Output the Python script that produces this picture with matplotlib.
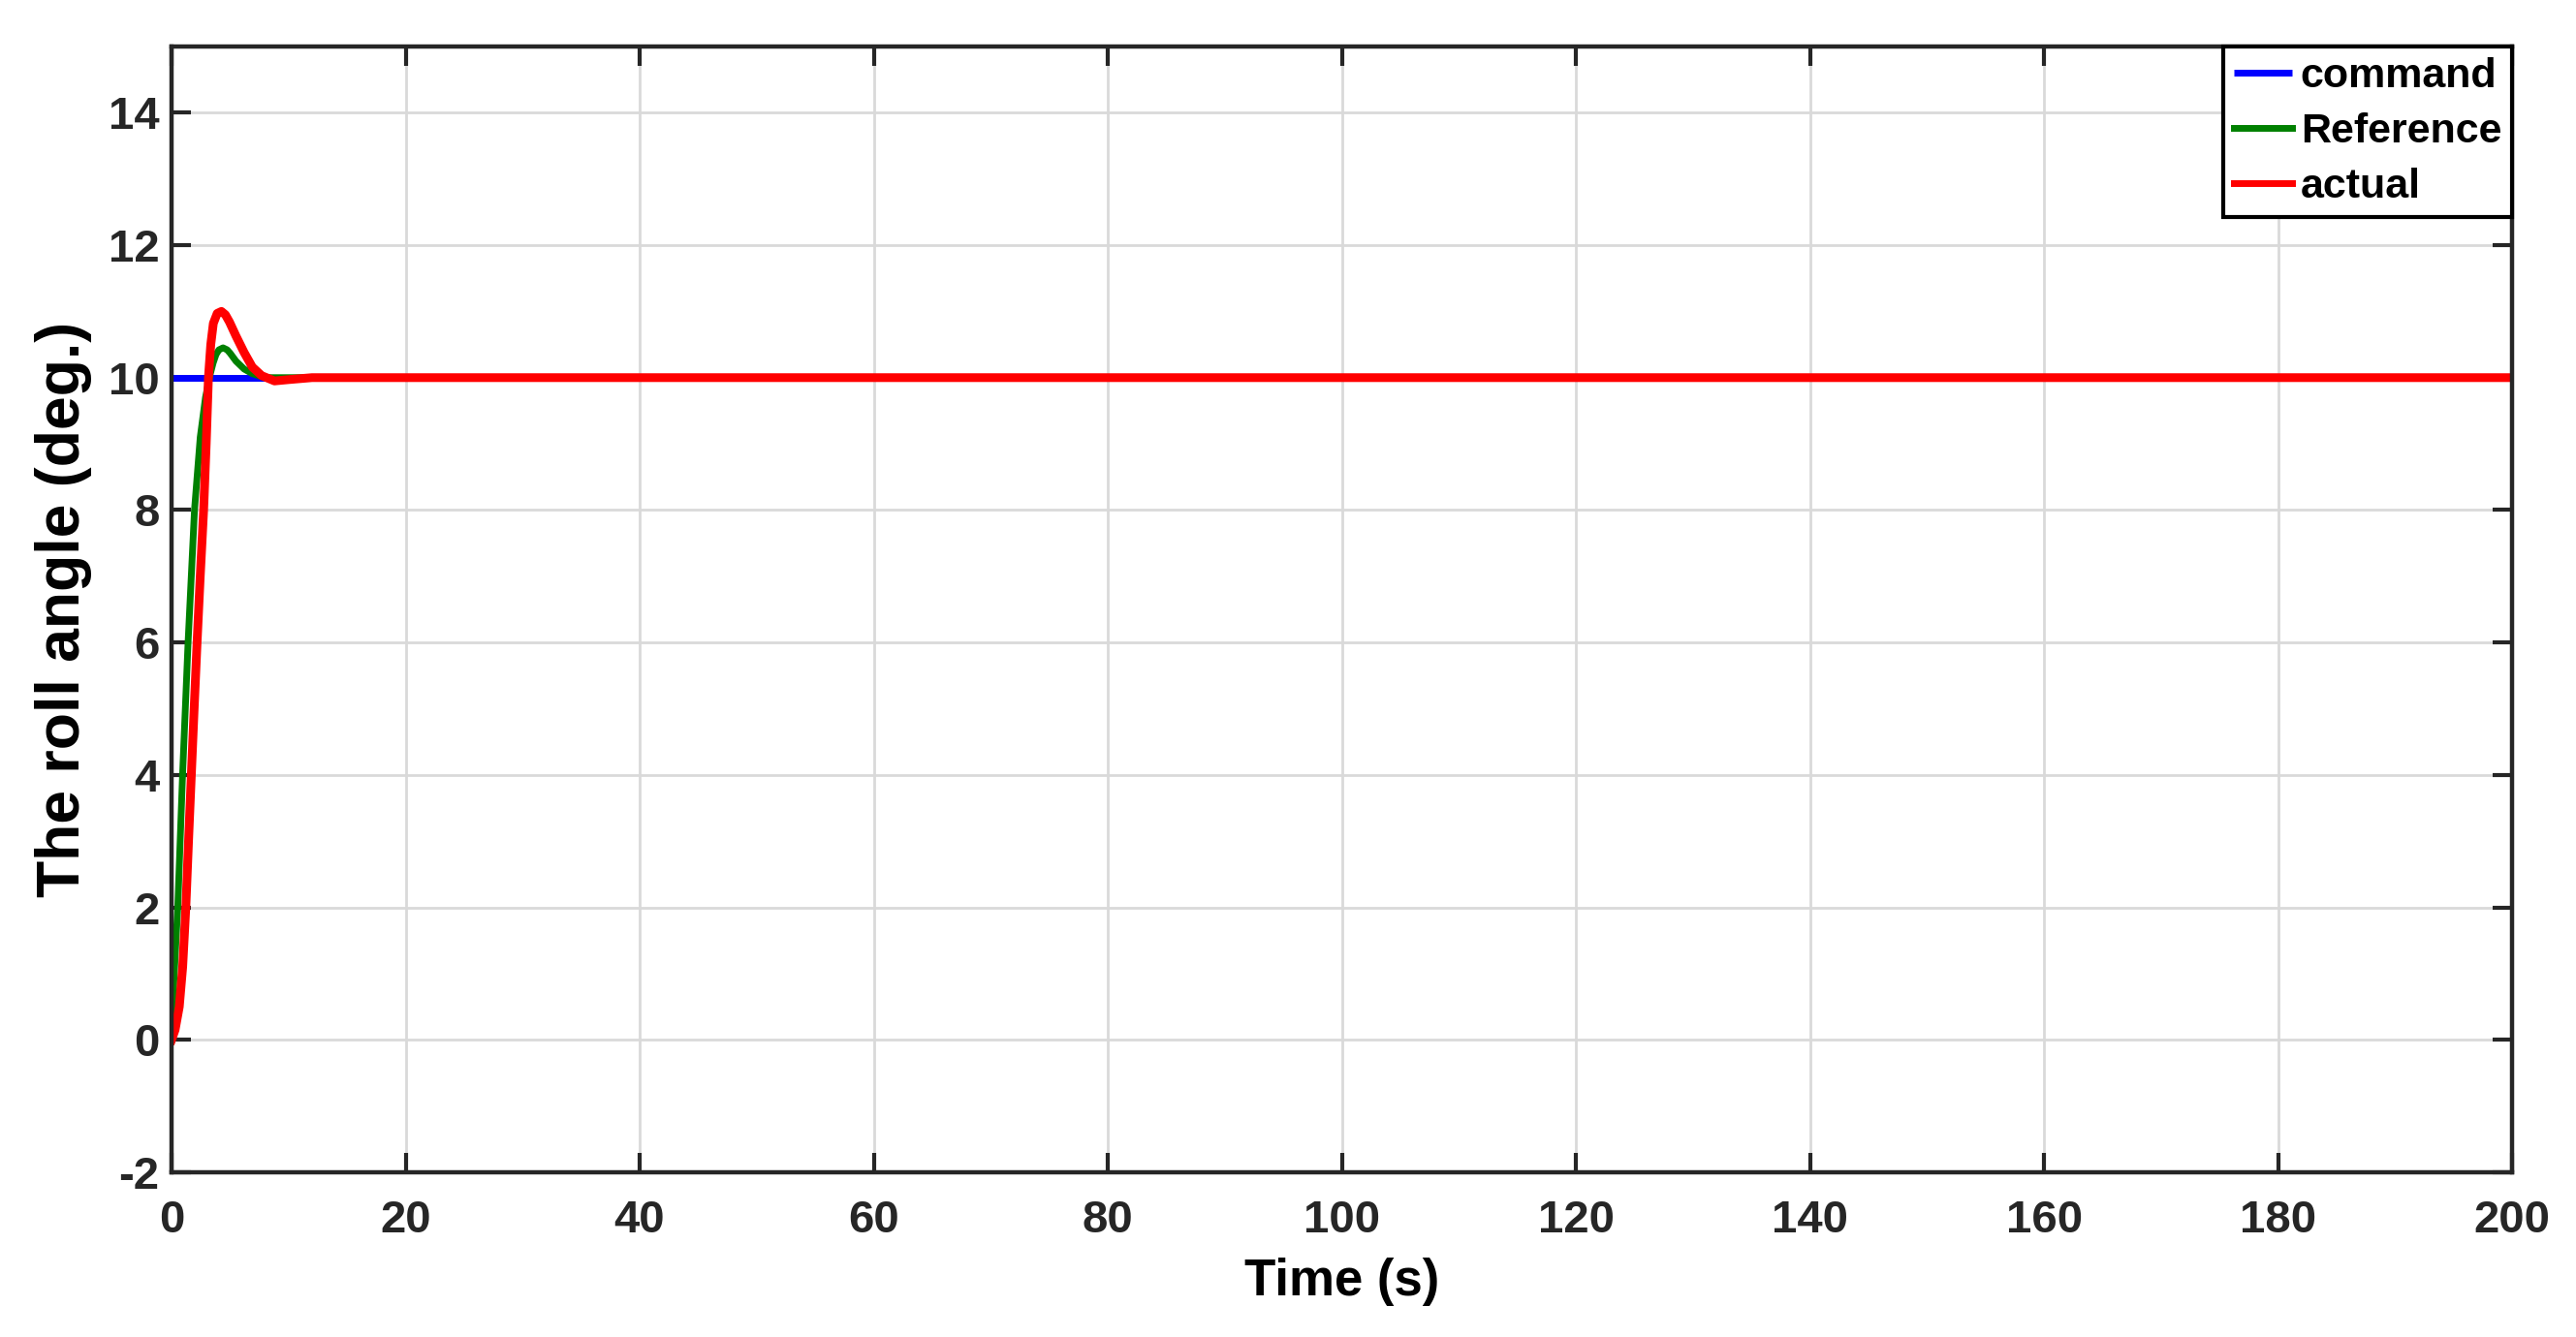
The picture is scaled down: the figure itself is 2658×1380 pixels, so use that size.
import matplotlib
matplotlib.use("Agg")
import matplotlib.pyplot as plt

plt.rcParams['font.family'] = ['Liberation Sans', 'DejaVu Sans']
plt.rcParams['font.weight'] = 'bold'

# ---- data ----
t_command = [0, 200]
command = [10, 10]

t_reference = [0, 0.2, 0.53, 0.94, 1.41, 1.96, 2.45, 2.9, 3.3, 3.55, 3.8, 4.05, 4.4, 4.75, 5.0, 5.5, 6.2, 6.9, 8.0, 10.0, 200]
reference = [0, 0.9, 2.0, 4.0, 6.0, 8.0, 9.1, 9.7, 10.05, 10.22, 10.35, 10.42, 10.45, 10.42, 10.37, 10.25, 10.13, 10.06, 10.0, 10.0, 10.0]

t_actual = [0, 0.3, 0.66, 0.95, 1.22, 1.45, 1.69, 1.93, 2.18, 2.45, 2.74, 2.96, 3.15, 3.35, 3.57, 3.9, 4.26,
            4.6, 4.95, 5.5, 6.2, 6.9, 7.7, 8.8, 10.0, 12.0, 200]
actual = [0, 0.15, 0.5, 1.1, 2.0, 3.0, 4.0, 5.0, 6.0, 7.0, 8.0, 9.0, 10.0, 10.5, 10.82, 10.97, 11.0,
          10.95, 10.84, 10.63, 10.38, 10.16, 10.03, 9.95, 9.97, 10.0, 10.0]

series_labels = ['command', 'Reference', 'actual']
x_ticks = [0, 20, 40, 60, 80, 100, 120, 140, 160, 180, 200]
y_ticks = [-2, 0, 2, 4, 6, 8, 10, 12, 14]

# ---- figure ----
fig = plt.figure(figsize=(26.58, 13.80), dpi=100)
ax = fig.add_axes([0.0666, 0.1232, 0.9752 - 0.0666, 0.9652 - 0.1232])

ax.plot(t_command, command, color='#0000ff', lw=5.0, label=series_labels[0], solid_capstyle='butt')
ax.plot(t_reference, reference, color='#008000', lw=5.0, label=series_labels[1], solid_joinstyle='round')
ax.plot(t_actual, actual, color='#ff0000', lw=6.5, label=series_labels[2], solid_joinstyle='round')

ax.set_xlim(0, 200)
ax.set_ylim(-2, 15)
ax.set_xticks(x_ticks)
ax.set_yticks(y_ticks)
ax.set_xticklabels([str(v) for v in x_ticks])
ax.set_yticklabels([str(v) for v in y_ticks])

ax.grid(True, color='#d9d9d9', lw=2.0)
ax.set_axisbelow(True)

for s in ax.spines.values():
    s.set_linewidth(3.2)
    s.set_color('#262626')

ax.tick_params(axis='both', which='major', direction='in', length=14.5, width=3.0,
               color='#262626', labelcolor='#262626', labelsize=34,
               top=True, right=True)
ax.tick_params(axis='x', pad=20)
ax.tick_params(axis='y', pad=9)
for lbl in ax.get_xticklabels() + ax.get_yticklabels():
    lbl.set_fontweight('bold')

ax.set_xlabel('Time (s)', fontsize=38, fontweight='bold', color='black', labelpad=12)
ax.set_ylabel('The roll angle (deg.)', fontsize=45, fontweight='bold', color='black', labelpad=12)

leg = ax.legend(loc='upper right', bbox_to_anchor=(1, 1), borderaxespad=0.0,
                prop={'weight': 'bold', 'size': 31},
                handlelength=1.4, handletextpad=0.2, labelspacing=0.4,
                borderpad=0.25, fancybox=False, framealpha=1.0, edgecolor='black')
leg.get_frame().set_linewidth(3.0)
for line in leg.get_lines():
    line.set_linewidth(5.0)

fig.savefig('out.png', dpi=100, facecolor='white')
